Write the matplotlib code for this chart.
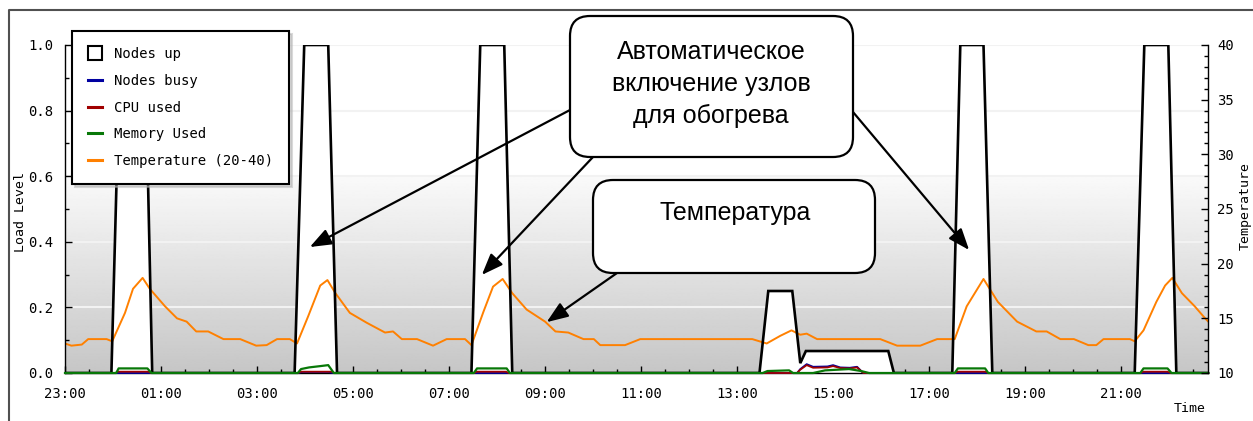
import numpy as np
import matplotlib
matplotlib.use("Agg")
import matplotlib.pyplot as plt
from matplotlib.lines import Line2D
from matplotlib.patches import FancyBboxPatch
from matplotlib.ticker import MultipleLocator, FixedLocator, FixedFormatter

# clock times, the day runs from 23:00 to ~22:50
nodes_up_time = ["23:00", "23:58", "00:09", "00:40", "00:49",
                 "03:47", "03:59", "04:29", "04:40",
                 "07:28", "07:39", "08:09", "08:19",
                 "13:28", "13:39", "14:09", "14:19", "14:26", "16:09", "16:16",
                 "17:29", "17:39", "18:08", "18:19",
                 "21:17", "21:29", "21:59", "22:09", "22:49"]
nodes_up = [0, 0, 1, 1, 0,
            0, 1, 1, 0,
            0, 1, 1, 0,
            0, 0.25, 0.25, 0.03, 0.067, 0.067, 0,
            0, 1, 1, 0,
            0, 1, 1, 0, 0]

busy_time = ["23:00", "03:52", "03:56", "04:30", "04:34",
             "14:15", "14:19", "14:27", "14:35", "14:53", "15:00", "15:09", "15:21", "15:30",
             "15:36", "15:38", "22:49"]
nodes_busy = [0, 0, 0.003, 0.003, 0,
              0, 0.012, 0.027, 0.019, 0.02, 0.024, 0.017, 0.016, 0.019,
              0.004, 0, 0]

cpu_time = ["23:00", "00:03", "00:06", "00:44", "00:48",
            "03:51", "03:55", "04:33", "04:37",
            "07:31", "07:35", "08:11", "08:15",
            "14:15", "14:19", "14:27", "14:35", "14:53", "15:00", "15:09", "15:21", "15:30",
            "15:36", "15:38",
            "17:32", "17:36", "18:10", "18:14",
            "21:24", "21:28", "21:58", "22:02", "22:49"]
cpu_used = [0, 0, 0.004, 0.004, 0,
            0, 0.004, 0.004, 0,
            0, 0.004, 0.004, 0,
            0, 0.01, 0.024, 0.016, 0.017, 0.021, 0.015, 0.014, 0.017,
            0.004, 0,
            0, 0.004, 0.004, 0,
            0, 0.004, 0.004, 0, 0]

mem_time = ["23:00", "00:04", "00:07", "00:43", "00:48",
            "03:51", "03:55", "04:05", "04:19", "04:29", "04:36",
            "07:31", "07:35", "08:12", "08:16",
            "13:32", "13:38", "14:05", "14:10", "14:35", "14:50", "15:20", "15:35", "15:45",
            "17:32", "17:36", "18:10", "18:14",
            "21:24", "21:28", "21:58", "22:03", "22:49"]
mem_used = [0, 0, 0.014, 0.014, 0,
            0, 0.012, 0.017, 0.021, 0.024, 0,
            0, 0.014, 0.014, 0,
            0, 0.006, 0.008, 0, 0, 0.008, 0.012, 0.006, 0,
            0, 0.014, 0.014, 0,
            0, 0.014, 0.014, 0, 0]

temp_time = ["23:00", "23:08", "23:21", "23:29", "23:52", "23:59", "00:15", "00:25", "00:37", "00:46",
             "01:05", "01:20", "01:32", "01:44", "01:59", "02:18", "02:39", "02:59", "03:12", "03:25",
             "03:41", "03:50", "04:04", "04:19", "04:28", "04:38", "04:56", "05:17", "05:40", "05:50",
             "06:01", "06:20", "06:40", "06:57", "07:20", "07:28", "07:43", "07:55", "08:07", "08:19",
             "08:37", "09:00", "09:13", "09:29", "09:48", "10:01", "10:09", "10:40", "10:59", "13:19",
             "13:37", "13:54", "14:08", "14:19", "14:27", "14:40", "15:59", "16:20", "16:49", "17:10",
             "17:32", "17:47", "18:08", "18:26", "18:50", "19:14", "19:27", "19:44", "20:01", "20:19",
             "20:29", "20:38", "21:11", "21:17", "21:28", "21:44", "21:55", "22:04", "22:16", "22:32",
             "22:45", "22:49"]
temperature = [12.7, 12.5, 12.6, 13.1, 13.1, 12.9, 15.5, 17.7, 18.7, 17.7,
               16.1, 15.0, 14.7, 13.8, 13.8, 13.1, 13.1, 12.5, 12.55, 13.1,
               13.1, 12.7, 15.2, 18.0, 18.5, 17.3, 15.5, 14.6, 13.7, 13.8,
               13.1, 13.1, 12.5, 13.1, 13.1, 12.55, 15.6, 17.9, 18.6, 17.3,
               15.8, 14.7, 13.8, 13.7, 13.1, 13.1, 12.55, 12.55, 13.1, 13.1,
               12.7, 13.4, 13.9, 13.5, 13.6, 13.1, 13.1, 12.5, 12.5, 13.1,
               13.1, 16.1, 18.6, 16.5, 14.7, 13.8, 13.8, 13.1, 13.1, 12.55,
               12.55, 13.1, 13.1, 12.9, 13.9, 16.5, 18.0, 18.7, 17.3, 16.1,
               15.0, 14.7]

hour_labels = ["23:00", "01:00", "03:00", "05:00", "07:00", "09:00",
               "11:00", "13:00", "15:00", "17:00", "19:00", "21:00"]

legend_labels = ["Nodes up", "Nodes busy", "CPU used", "Memory Used", "Temperature (20-40)"]

c_busy = "#0000a0"
c_cpu = "#a00000"
c_mem = "#087808"
c_temp = "#ff8000"
MONO = "DejaVu Sans Mono"


def hours(clock):
    h, m = map(int, clock.split(":"))
    return ((h * 60 + m - 23 * 60) % 1440) / 60.0


def hrs(times):
    return np.array([hours(t) for t in times])


W, H = 1253, 421
fig = plt.figure(figsize=(W / 100, H / 100), dpi=100)
fig.patch.set_facecolor("white")
ax = fig.add_axes([65 / W, 48 / H, 1143 / W, 328 / H])
ax2 = ax.twinx()

xmax = 23.81
ax.set_xlim(0, xmax)
ax.set_ylim(0, 1)
ax2.set_ylim(10, 40)

# background: white on top, grey gradient below 0.6
lv = np.linspace(1, 0, 300)
shade = np.where(lv >= 0.6, 1.0, (198 + (250 - 198) * lv / 0.6) / 255)
grad = np.repeat(shade[:, None], 2, axis=1)
ax.imshow(grad, extent=[0, xmax, 0, 1], aspect="auto", cmap="gray",
          vmin=0, vmax=1, zorder=0, interpolation="bilinear")
ax.set_axisbelow(True)
ax.yaxis.grid(True, color="#f2f2f2", lw=1.5)

tn = hrs(nodes_up_time)
ax.fill_between(tn, nodes_up, 0, color="white", zorder=1, lw=0)
ax.plot(hrs(temp_time), temperature, color=c_temp, lw=1.4, zorder=2,
        transform=ax2.transData)
ax.plot(tn, nodes_up, color="black", lw=1.9, zorder=3, solid_joinstyle="miter")
ax.plot(hrs(busy_time), nodes_busy, color=c_busy, lw=1.3, zorder=4, clip_on=False)
ax.plot(hrs(cpu_time), cpu_used, color=c_cpu, lw=1.3, zorder=4.2, clip_on=False)
ax.plot(hrs(mem_time), mem_used, color=c_mem, lw=1.6, zorder=4.4, clip_on=False)

# axes
for a in (ax, ax2):
    a.spines["top"].set_visible(False)
ax.spines["right"].set_visible(False)
ax2.spines["left"].set_visible(False)
ax2.spines["bottom"].set_visible(False)
for s in ("left", "bottom"):
    ax.spines[s].set_linewidth(1.0)
ax2.spines["right"].set_linewidth(1.0)

ax.xaxis.set_major_locator(FixedLocator([hours(t) for t in hour_labels]))
ax.xaxis.set_major_formatter(FixedFormatter(hour_labels))
ax.xaxis.set_minor_locator(MultipleLocator(0.5))
ax.yaxis.set_major_locator(MultipleLocator(0.2))
ax.yaxis.set_minor_locator(MultipleLocator(0.1))
ax.yaxis.set_major_formatter(plt.FormatStrFormatter("%.1f"))
ax2.yaxis.set_major_locator(MultipleLocator(5))
ax2.yaxis.set_minor_locator(MultipleLocator(1))

ax.tick_params(axis="both", which="both", direction="in", width=1, colors="black",
               labelsize=10, right=False, top=False)
ax.tick_params(which="major", length=5)
ax.tick_params(which="minor", length=3)
ax.tick_params(axis="x", pad=10)
ax.tick_params(axis="y", pad=8.5)
ax2.tick_params(axis="y", which="both", direction="in", width=1, labelsize=10, pad=6.5)
ax2.tick_params(which="major", length=5)
ax2.tick_params(which="minor", length=3)
for lab in ax.get_xticklabels() + ax.get_yticklabels() + ax2.get_yticklabels():
    lab.set_family(MONO)

fig.text(21 / W, 1 - 212 / H, "Load Level", rotation=90, ha="center", va="center",
         family=MONO, fontsize=9.5)
fig.text(1 - 1 / W, 1 - 206 / H, "Temperature", rotation=90, ha="right", va="center",
         family=MONO, fontsize=9.5)
fig.text(1190 / W, 1 - 408 / H, "Time", ha="center", va="center", family=MONO, fontsize=9.5)

# legend
handles = [Line2D([], [], ls="none", marker="s", ms=10.5, mfc="white", mec="black", mew=1.5),
           Line2D([], [], color=c_busy, lw=2.2),
           Line2D([], [], color=c_cpu, lw=2.2),
           Line2D([], [], color=c_mem, lw=2.2),
           Line2D([], [], color=c_temp, lw=2.2)]
leg = ax.legend(handles, legend_labels, loc="upper left",
                bbox_to_anchor=(7 / 1143, (373 - 31) / 328), borderaxespad=0,
                fancybox=False, shadow={"color": "#b4b4b4"}, edgecolor="black",
                framealpha=1, prop={"family": MONO, "size": 10},
                handlelength=1.0, handletextpad=0.85, labelspacing=0.92, borderpad=1.15)
leg.get_frame().set_linewidth(1.5)
leg.set_zorder(6)

# outer frame
fig.add_artist(Line2D([9 / W, 9 / W, 1], [0, 1 - 10 / H, 1 - 10 / H],
                      transform=fig.transFigure, color="#505050", lw=1.5))


# callouts
def callout(x0, y0, x1, y1):
    box = FancyBboxPatch((x0 / 100, (H - y1) / 100), (x1 - x0) / 100, (y1 - y0) / 100,
                         boxstyle="round,pad=0,rounding_size=0.2",
                         transform=fig.dpi_scale_trans, fc="white", ec="black",
                         lw=1.6, zorder=10)
    fig.add_artist(box)


def arrow(start, tip_time, tip_level):
    ax.annotate("", xy=(hours(tip_time), tip_level), xycoords="data",
                xytext=(start[0], H - start[1]), textcoords="figure pixels",
                annotation_clip=False, zorder=9,
                arrowprops=dict(arrowstyle="-|>,head_length=1.3,head_width=0.5",
                                color="black", lw=1.6, shrinkA=0, shrinkB=0,
                                mutation_scale=10))


arrow((570, 110), "04:06", 0.384)
arrow((593, 157), "07:41", 0.299)
arrow((853, 112), "17:50", 0.375)
arrow((617, 273), "09:02", 0.155)

callout(570, 16, 853, 157)
callout(593, 180, 875, 273)
fig.text(711 / W, 1 - 84 / H, "Автоматическое\nвключение узлов\nдля обогрева",
         ha="center", va="center", fontsize=18, family="Liberation Sans",
         linespacing=1.44, zorder=11)
fig.text(735 / W, 1 - 213 / H, "Температура", ha="center", va="center",
         fontsize=18, family="Liberation Sans", zorder=11)

fig.savefig("out.png", dpi=100)
